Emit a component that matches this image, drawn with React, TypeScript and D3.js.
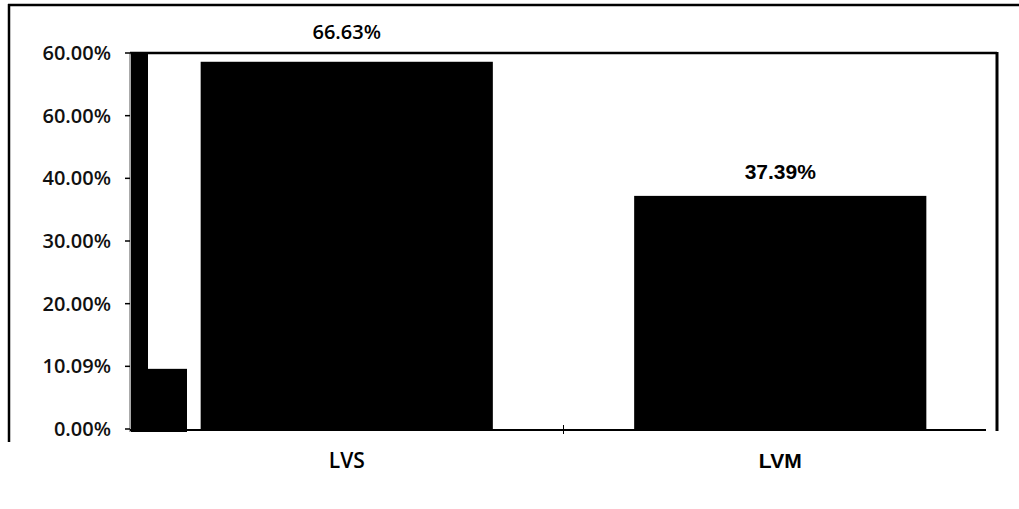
import React, { useRef, useEffect } from "react";
import * as d3 from "d3";

// main categories and their bar values (percent)
const categories = ["LVS", "LVM"];
const values = [58.6, 37.2];
const valueLabels = ["66.63%", "37.39%"];

// odd extra bars drawn at the very left of the plot (as in the scan)
const edgeValues = [60, 9.6];

// y tick values and the labels printed next to them (kept as printed)
const yTickValues = [0, 10, 20, 30, 40, 50, 60];
const yTickLabels = ["0.00%", "10.09%", "20.00%", "30.00%", "40.00%", "60.00%", "60.00%"];

const W = 1019;
const H = 509;

const App: React.FC = () => {
  const ref = useRef<SVGSVGElement | null>(null);

  useEffect(() => {
    const svg = d3.select(ref.current);
    svg.selectAll("*").remove();

    const left = 130;
    const right = 997;
    const top = 53;
    const bottom = 429;

    const x = d3
      .scaleBand<string>()
      .domain(categories)
      .range([left, right])
      .paddingInner(0.326)
      .paddingOuter(0.163);

    const y = d3.scaleLinear().domain([0, 60]).range([bottom, top]);

    // outer frame (top and left only)
    svg
      .append("line")
      .attr("x1", 8)
      .attr("x2", W)
      .attr("y1", 5)
      .attr("y2", 5)
      .attr("stroke", "#000")
      .attr("stroke-width", 2.5);
    svg
      .append("line")
      .attr("x1", 9)
      .attr("x2", 9)
      .attr("y1", 4)
      .attr("y2", 442)
      .attr("stroke", "#000")
      .attr("stroke-width", 2.5);

    // plot frame: top and right
    svg
      .append("line")
      .attr("x1", left)
      .attr("x2", right)
      .attr("y1", top)
      .attr("y2", top)
      .attr("stroke", "#000")
      .attr("stroke-width", 2.5);
    svg
      .append("line")
      .attr("x1", right)
      .attr("x2", right)
      .attr("y1", top - 1)
      .attr("y2", bottom + 2)
      .attr("stroke", "#000")
      .attr("stroke-width", 3);

    // edge bars (widths as they appear in the scan)
    const edgeWidths = [17, 39];
    let ex = left + 1;
    edgeValues.forEach((v, i) => {
      svg
        .append("rect")
        .attr("x", ex)
        .attr("y", y(v))
        .attr("width", edgeWidths[i])
        .attr("height", y(0) - y(v) + 3)
        .attr("fill", "#000");
      ex += edgeWidths[i];
    });

    // main bars
    svg
      .selectAll(".bar")
      .data(categories)
      .enter()
      .append("rect")
      .attr("class", "bar")
      .attr("x", (d) => x(d)!)
      .attr("y", (d, i) => y(values[i]))
      .attr("width", x.bandwidth())
      .attr("height", (d, i) => y(0) - y(values[i]) + 1)
      .attr("fill", "#000");

    // value labels
    svg
      .append("text")
      .attr("x", x(categories[0])! + x.bandwidth() / 2)
      .attr("y", 39)
      .attr("text-anchor", "middle")
      .style("font-family", "'Open Sans', sans-serif")
      .style("font-weight", 600)
      .style("font-size", "20px")
      .text(valueLabels[0]);
    svg
      .append("text")
      .attr("x", x(categories[1])! + x.bandwidth() / 2)
      .attr("y", 179)
      .attr("text-anchor", "middle")
      .style("font-family", "'Liberation Sans', Arial, sans-serif")
      .style("font-weight", 700)
      .style("font-size", "21px")
      .text(valueLabels[1]);

    // y axis
    const yAxis = svg.append("g").attr("transform", `translate(${left},0)`);
    yAxis
      .append("line")
      .attr("x1", 0)
      .attr("x2", 0)
      .attr("y1", top)
      .attr("y2", bottom + 3)
      .attr("stroke", "#555")
      .attr("stroke-width", 1);
    yTickValues.forEach((t, i) => {
      yAxis
        .append("line")
        .attr("x1", -5)
        .attr("x2", 0)
        .attr("y1", y(t))
        .attr("y2", y(t))
        .attr("stroke", "#000")
        .attr("stroke-width", 1.5);
      yAxis
        .append("text")
        .attr("x", -19)
        .attr("y", y(t) + 7)
        .attr("text-anchor", "end")
        .style("font-family", "'Open Sans', sans-serif")
        .style("font-weight", 600)
        .style("font-size", "20px")
        .attr("fill", "#111")
        .text(yTickLabels[i]);
    });

    // x axis line and middle tick
    svg
      .append("line")
      .attr("x1", left)
      .attr("x2", 986)
      .attr("y1", bottom + 1)
      .attr("y2", bottom + 1)
      .attr("stroke", "#000")
      .attr("stroke-width", 2);
    const step = x.step();
    svg
      .append("line")
      .attr("x1", left + step)
      .attr("x2", left + step)
      .attr("y1", bottom - 4)
      .attr("y2", bottom + 5)
      .attr("stroke", "#000")
      .attr("stroke-width", 1);

    // category labels
    svg
      .append("text")
      .attr("x", x(categories[0])! + x.bandwidth() / 2)
      .attr("y", 468)
      .attr("text-anchor", "middle")
      .style("font-family", "'Open Sans', sans-serif")
      .style("font-weight", 600)
      .style("font-size", "21px")
      .text(categories[0]);
    svg
      .append("text")
      .attr("x", x(categories[1])! + x.bandwidth() / 2)
      .attr("y", 468)
      .attr("text-anchor", "middle")
      .style("font-family", "'Liberation Sans', Arial, sans-serif")
      .style("font-weight", 700)
      .style("font-size", "21px")
      .text(categories[1]);
  }, []);

  return (
    <svg
      ref={ref}
      width={W}
      height={H}
      style={{ position: "absolute", left: 0, top: 0, background: "#fff" }}
    />
  );
};

export default App;
